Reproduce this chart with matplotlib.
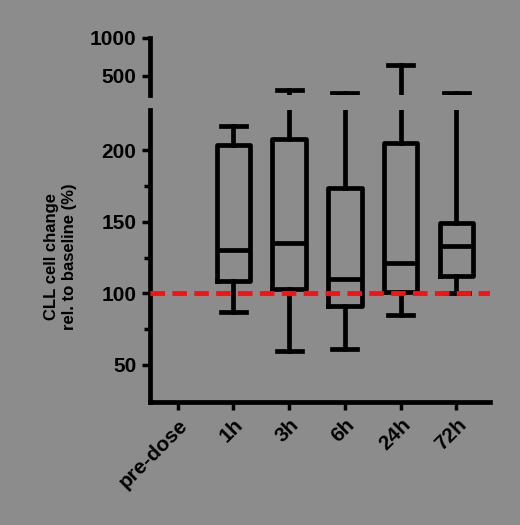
import matplotlib
matplotlib.use("Agg")
import matplotlib.pyplot as plt

plt.rcParams['font.family'] = ['Liberation Sans', 'DejaVu Sans']
plt.rcParams['font.weight'] = 'bold'
plt.rcParams['axes.labelweight'] = 'bold'

categories = ['pre-dose', '1h', '3h', '6h', '24h', '72h']
whislo = [87, 60, 61, 85, 100]
q1 = [109, 103, 91, 101, 112]
med = [130, 135, 110, 121, 133]
q3 = [204, 208, 174, 205, 149]
whishi = [217, 320, 280, 650, 280]
baseline = 100

bg = '#8c8c8c'
fig = plt.figure(figsize=(5.2, 5.25), dpi=100, facecolor=bg)
axl = fig.add_axes([0.288, 0.234, 0.654, 0.556], facecolor=bg)
axu = fig.add_axes([0.288, 0.819, 0.654, 0.109], facecolor=bg)

stats = [dict(whislo=a, q1=b, med=c, q3=d, whishi=e, fliers=[])
         for a, b, c, d, e in zip(whislo, q1, med, q3, whishi)]
pos = list(range(1, len(categories)))
lw = 3.4
for ax in (axl, axu):
    ax.bxp(stats, positions=pos, widths=0.6, capwidths=0.45, showfliers=False,
           boxprops=dict(color='black', linewidth=lw),
           whiskerprops=dict(color='black', linewidth=lw),
           capprops=dict(color='black', linewidth=lw),
           medianprops=dict(color='black', linewidth=lw))
    ax.set_xlim(-0.5, 5.6)
    for s in ('top', 'right'):
        ax.spines[s].set_visible(False)
    ax.spines['left'].set_linewidth(lw)
    ax.spines['bottom'].set_linewidth(lw)
    ax.tick_params(width=2.5, length=6, labelsize=15)

axl.axhline(baseline, color='#ff1010', linestyle=(0, (3, 1.5)), linewidth=3.5, zorder=5)
axl.set_ylim(24, 228)
axl.set_yticks([50, 100, 150, 200])
axl.set_yticks([75, 125, 175], minor=True)
axl.tick_params(which='minor', width=2.5, length=4)
axl.set_xticks(range(len(categories)))
axl.set_xticklabels(categories, rotation=45, ha='right', rotation_mode='anchor', fontsize=15)
axl.set_ylabel('CLL cell change\nrel. to baseline (%)', fontsize=12, fontweight='bold', labelpad=18)

axu.set_ylim(250, 1000)
axu.set_yticks([500, 1000])
axu.set_xticks([])
axu.spines['bottom'].set_visible(False)

fig.savefig('out.png', dpi=100, facecolor=bg)
